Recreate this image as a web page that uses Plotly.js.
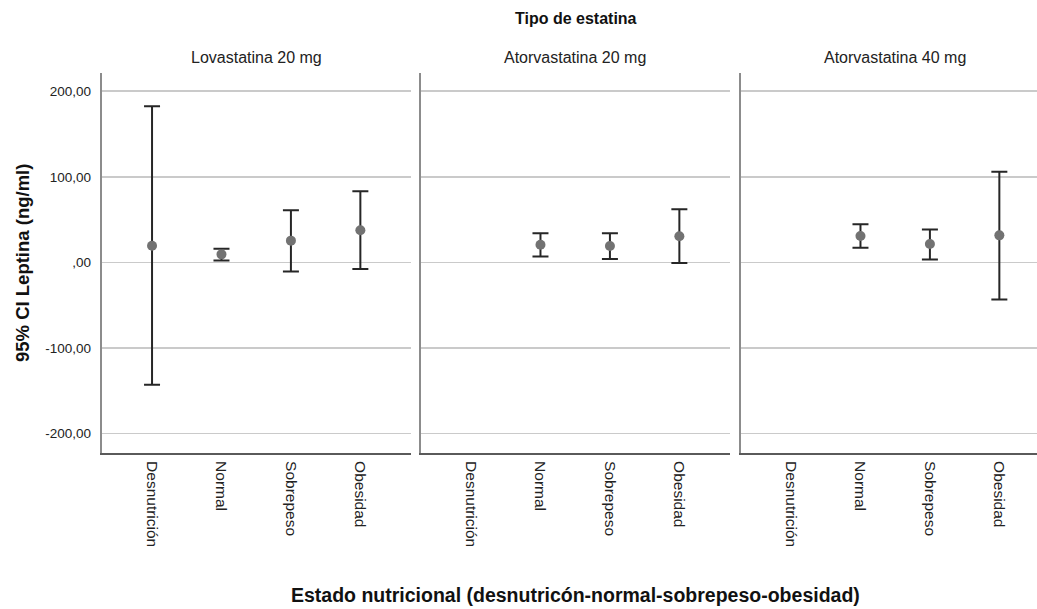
<!DOCTYPE html>
<html>
<head>
<meta charset="utf-8">
<script src="https://cdn.plot.ly/plotly-3.0.1.min.js"></script>
<style>
  html, body { margin: 0; padding: 0; background: #fff; }
  #chart { width: 1037px; height: 609px; }
</style>
</head>
<body>
<div id="chart"></div>
<script>
// Nutritional status categories (x axis of every panel)
const categories = ["Desnutrición", "Normal", "Sobrepeso", "Obesidad"];

// Statin groups (one panel each)
const panels = ["Lovastatina 20 mg", "Atorvastatina 20 mg", "Atorvastatina 40 mg"];

// Mean leptin (ng/ml) with 95% CI bounds, per panel
const lovastatina20Mean  = [19.5, 9.4, 25.4, 37.5];
const lovastatina20Lower = [-143.0, 2.3, -10.5, -7.8];
const lovastatina20Upper = [182.4, 16.0, 60.9, 83.2];

const atorvastatina20Mean  = [null, 20.7, 19.1, 30.5];
const atorvastatina20Lower = [null, 7.0, 3.9, -0.8];
const atorvastatina20Upper = [null, 34.0, 34.0, 62.1];

const atorvastatina40Mean  = [null, 30.9, 21.5, 31.6];
const atorvastatina40Lower = [null, 17.2, 3.5, -43.4];
const atorvastatina40Upper = [null, 44.5, 38.3, 105.9];

// Y axis ticks
const yTickVals = [-200, -100, 0, 100, 200];
const yTickText = ["-200,00", "-100,00", ",00", "100,00", "200,00"];

const means  = [lovastatina20Mean, atorvastatina20Mean, atorvastatina40Mean];
const lowers = [lovastatina20Lower, atorvastatina20Lower, atorvastatina40Lower];
const uppers = [lovastatina20Upper, atorvastatina20Upper, atorvastatina40Upper];

const W = 1037, H = 609;
const FONT = "Liberation Sans, Arial, sans-serif";

// Panel geometry (pixels)
const panelLeft  = [101.7, 420.7, 740.7];
const panelWidth = 309;
const plotTop = 73, plotBottom = 453;
const catStep = 69.5;       // pixels between categories
const catPad  = 0.725;      // category padding at each side

const traces = [];
means.forEach((m, i) => {
  const ax = i === 0 ? "" : String(i + 1);
  traces.push({
    type: "scatter",
    mode: "markers",
    x: categories,
    y: m,
    xaxis: "x" + ax,
    yaxis: "y" + ax,
    marker: { color: "#727272", size: 10 },
    error_y: {
      type: "data",
      symmetric: false,
      array: m.map((v, k) => v === null ? null : uppers[i][k] - v),
      arrayminus: m.map((v, k) => v === null ? null : v - lowers[i][k]),
      color: "#262626",
      thickness: 2,
      width: 8
    },
    showlegend: false,
    hoverinfo: "skip"
  });
});

const layout = {
  width: W, height: H,
  margin: { l: 0, r: 0, t: 0, b: 0 },
  paper_bgcolor: "#fff",
  plot_bgcolor: "#fff",
  font: { family: FONT, color: "#222" },
  showlegend: false,
  annotations: []
};

const yDomain = [(H - plotBottom) / H, (H - plotTop) / H];

panels.forEach((name, i) => {
  const ax = i === 0 ? "" : String(i + 1);
  const left = panelLeft[i];
  const right = Math.min(left + panelWidth, W);
  const rangeMax = 3 + catPad - (left + panelWidth - right) / catStep;
  layout["xaxis" + ax] = {
    domain: [left / W, right / W],
    anchor: "y" + ax,
    type: "category",
    categoryorder: "array",
    categoryarray: categories,
    range: [-catPad, rangeMax],
    showgrid: false,
    zeroline: false,
    showline: true,
    linecolor: "#5a5a5a",
    linewidth: 2,
    ticks: "",
    tickangle: 90,
    ticklabelstandoff: 3,
    tickfont: { family: FONT, size: 15.5, color: "#222" },
    fixedrange: true,
    automargin: false
  };
  layout["yaxis" + ax] = {
    domain: yDomain,
    anchor: "x" + ax,
    range: [-222.7, 221.3],
    tickvals: yTickVals,
    ticktext: yTickText,
    showticklabels: i === 0,
    showgrid: true,
    gridcolor: "#cacaca",
    gridwidth: 1.6,
    zeroline: false,
    showline: true,
    linecolor: "#8c8c8c",
    linewidth: 2,
    ticks: "",
    ticklabelstandoff: 6,
    tickfont: { family: FONT, size: 13.5, color: "#222" },
    fixedrange: true,
    automargin: false
  };
  layout.annotations.push({
    text: name,
    xref: "paper", yref: "paper",
    x: (left + panelWidth / 2) / W, y: 1 - 57 / H,
    xanchor: "center", yanchor: "middle",
    showarrow: false,
    font: { family: FONT, size: 16, color: "#222" }
  });
});

// Facet header
layout.annotations.push({
  text: "<b>Tipo de estatina</b>",
  xref: "paper", yref: "paper",
  x: 575.7 / W, y: 1 - 19 / H,
  xanchor: "center", yanchor: "middle",
  showarrow: false,
  font: { family: FONT, size: 16, color: "#111" }
});

// Axis titles
layout.annotations.push({
  text: "<b>95% CI Leptina (ng/ml)</b>",
  xref: "paper", yref: "paper",
  x: 22 / W, y: 1 - 263 / H,
  xanchor: "center", yanchor: "middle",
  textangle: -90,
  showarrow: false,
  font: { family: FONT, size: 18.5, color: "#111" }
});
layout.annotations.push({
  text: "<b>Estado nutricional (desnutricón-normal-sobrepeso-obesidad)</b>",
  xref: "paper", yref: "paper",
  x: 575.7 / W, y: 1 - 595 / H,
  xanchor: "center", yanchor: "middle",
  showarrow: false,
  font: { family: FONT, size: 19.5, color: "#111" }
});

Plotly.newPlot("chart", traces, layout, { displayModeBar: false, staticPlot: true });
</script>
</body>
</html>
